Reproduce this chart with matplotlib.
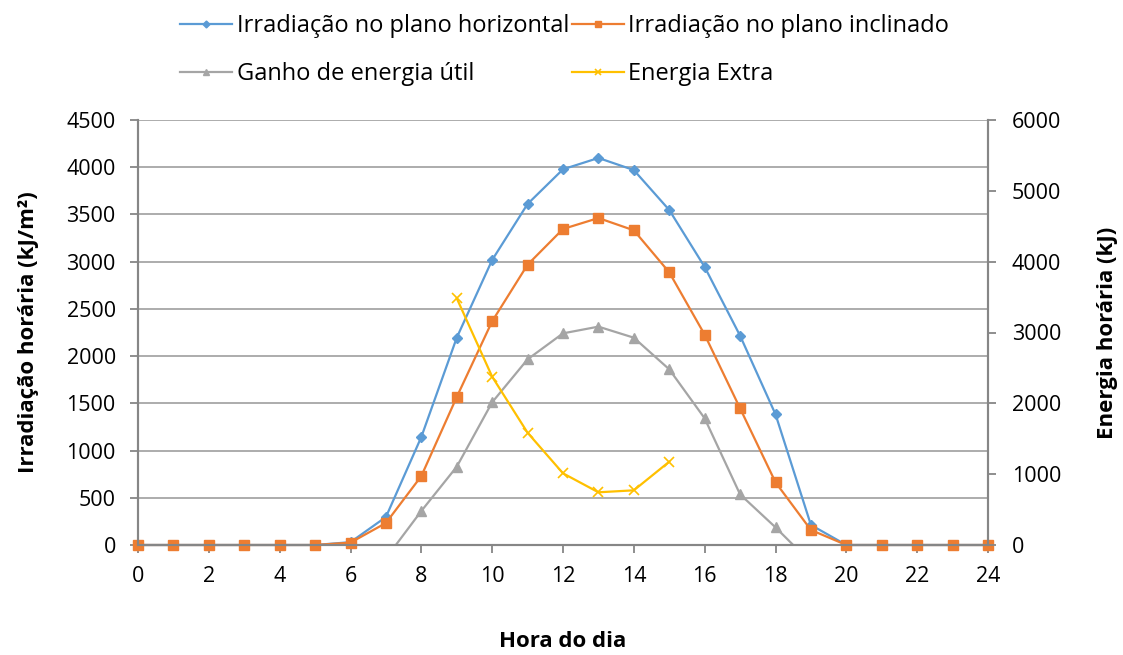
import matplotlib.pyplot as plt
import numpy as np

plt.rcParams["font.family"] = ["Open Sans", "DejaVu Sans"]

# Hourly data (hour of day)
horas = list(range(0, 25))
irr_horizontal = [0, 0, 0, 0, 0, 0, 30, 296, 1144, 2195, 3018, 3611, 3978, 4098,
                  3970, 3547, 2944, 2216, 1384, 212, 0, 0, 0, 0, 0]
irr_inclinado = [0, 0, 0, 0, 0, 0, 25, 233, 730, 1567, 2369, 2968, 3346, 3462,
                 3332, 2887, 2227, 1447, 664, 159, 0, 0, 0, 0, 0]

horas_ganho = list(range(7, 20))
ganho_util = [-140, 360, 829, 1511, 1966, 2241, 2312, 2195, 1860, 1341, 536, 187, -187]

horas_extra = list(range(9, 16))
energia_extra = [3483, 2376, 1585, 1012, 744, 772, 1176]

c_azul = "#5B9BD5"
c_laranja = "#ED7D31"
c_cinza = "#A5A5A5"
c_amarelo = "#FFC000"
c_eixo = "#868686"

fig = plt.figure(figsize=(11.23, 6.55), dpi=100)
ax = fig.add_axes([138 / 1123, 110 / 655, 850 / 1123, 425 / 655])
ax2 = ax.twinx()

l1, = ax.plot(horas, irr_horizontal, color=c_azul, linewidth=1.6, marker="D",
              markersize=5, label="Irradiação no plano horizontal", clip_on=False, zorder=3)
l2, = ax.plot(horas, irr_inclinado, color=c_laranja, linewidth=1.6, marker="s",
              markersize=7, label="Irradiação no plano inclinado", clip_on=False, zorder=4)
l3, = ax.plot(horas_ganho, ganho_util, color=c_cinza, linewidth=1.6, marker="^",
              markersize=6.5, label="Ganho de energia útil")
l4, = ax2.plot(horas_extra, energia_extra, color=c_amarelo, linewidth=1.6, marker="x",
               markersize=7, markeredgewidth=1.2, label="Energia Extra")

ax.set_xlim(0, 24)
ax.set_ylim(0, 4500)
ax2.set_ylim(0, 6000)
ax.set_xticks(range(0, 25, 2))
ax.set_yticks(range(0, 4501, 500))
ax2.set_yticks(range(0, 6001, 1000))

ax.grid(axis="y", color="#A6A6A6", linewidth=1.3)
ax.set_axisbelow(True)

for a in (ax, ax2):
    a.spines["top"].set_visible(False)
    for s in ("left", "right", "bottom"):
        a.spines[s].set_color(c_eixo)
        a.spines[s].set_linewidth(1.5)
    a.tick_params(colors=c_eixo, labelcolor="black", labelsize=15.5, length=6, width=1.3)
ax.tick_params(axis="x", pad=9)
ax.tick_params(axis="y", pad=10)
ax2.tick_params(axis="y", pad=11)

ax.set_xlabel("Hora do dia", fontsize=16, fontweight="bold", labelpad=32)
ax.set_ylabel("Irradiação horária (kJ/m²)", fontsize=16, fontweight="bold", labelpad=20)
ax2.set_ylabel("Energia horária (kJ)", fontsize=16, fontweight="bold", labelpad=26)

fig.legend(handles=[l1, l3, l2, l4], ncol=2, loc="upper left",
           bbox_to_anchor=(166 / 1123, 1.0), frameon=False, fontsize=17,
           handlelength=2.2, handletextpad=0.2, labelspacing=1.0,
           columnspacing=0.1, markerscale=0.7, borderaxespad=0.2)

fig.savefig("out.png", dpi=100)
